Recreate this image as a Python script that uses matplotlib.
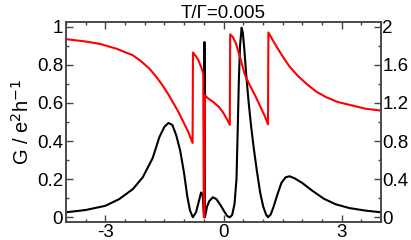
import matplotlib
matplotlib.use("Agg")
import matplotlib.pyplot as plt
from matplotlib.ticker import MultipleLocator, FuncFormatter

plt.rcParams['font.family'] = ['Liberation Sans', 'DejaVu Sans']

title = "T/\u0393=0.005"
ylabel = r"G / e$^{2}$h$^{-1}$"

# black curve: conductance G (left axis)
g_x = [-4.0, -3.5, -3.0, -2.65, -2.3, -2.05, -1.8, -1.63, -1.5, -1.4, -1.3, -1.2,
       -1.1, -1.0, -0.92, -0.85, -0.78, -0.70, -0.63, -0.57, -0.53, -0.505, -0.486,
       -0.484, -0.482, -0.46, -0.42, -0.36, -0.27, -0.18, -0.08, 0.02, 0.1, 0.16,
       0.22, 0.28, 0.33, 0.36, 0.39, 0.42, 0.46, 0.49, 0.53, 0.58, 0.64, 0.70, 0.77,
       0.85, 0.93, 1.01, 1.08, 1.13, 1.20, 1.28, 1.37, 1.47, 1.58, 1.68, 1.80, 2.0,
       2.25, 2.55, 2.85, 3.2, 3.6, 4.0]
g_y = [0.026, 0.038, 0.060, 0.095, 0.148, 0.21, 0.31, 0.42, 0.475, 0.495, 0.485, 0.43,
       0.35, 0.23, 0.11, 0.035, 0.0, 0.025, 0.08, 0.13, 0.12, 0.03, 0.0,
       0.92, 0.0, 0.01, 0.055, 0.085, 0.105, 0.095, 0.065, 0.03, 0.005, 0.0,
       0.012, 0.07, 0.2, 0.45, 0.72, 0.90, 0.995, 0.97, 0.88, 0.74, 0.60, 0.48, 0.36,
       0.24, 0.13, 0.055, 0.015, 0.0, 0.015, 0.06, 0.12, 0.18, 0.21, 0.215, 0.205, 0.18,
       0.14, 0.097, 0.068, 0.048, 0.035, 0.026]

# red curve (right axis)
r_x = [-4.0, -3.5, -3.14, -2.72, -2.3, -2.1, -1.88, -1.7, -1.54, -1.4, -1.29, -1.15,
       -1.03, -0.9, -0.785, -0.775, -0.70, -0.64, -0.57, -0.515, -0.50, -0.485, -0.47,
       -0.40, -0.26, -0.12, -0.01, 0.10, 0.16, 0.17, 0.24, 0.32, 0.42, 0.54, 0.65,
       0.80, 0.95, 1.05, 1.13, 1.14, 1.25, 1.35, 1.5, 1.68, 1.9, 2.11, 2.35, 2.61,
       2.9, 3.2, 3.6, 4.0]
r_y = [1.87, 1.845, 1.82, 1.77, 1.70, 1.64, 1.56, 1.47, 1.38, 1.29, 1.21, 1.11,
       1.01, 0.90, 0.78, 1.73, 1.69, 1.65, 1.58, 1.51, 0.0, 0.0, 1.28,
       1.25, 1.21, 1.16, 1.10, 1.02, 0.97, 1.92, 1.89, 1.82, 1.68, 1.50, 1.40,
       1.28, 1.15, 1.06, 0.975, 1.94, 1.86, 1.79, 1.69, 1.58, 1.48, 1.40, 1.32, 1.26,
       1.21, 1.18, 1.14, 1.12]

x_ticks = [-3, 0, 3]

fig = plt.figure(figsize=(4.11, 2.40), dpi=100)
ax = fig.add_axes([66/411, 1-222/240, (381-66)/411, (222-22)/240])
ax2 = ax.twinx()

ax.plot(g_x, g_y, color='black', lw=1.5)
ax2.plot(r_x, r_y, color='#ff0000', lw=1.5)

ax.set_xlim(-4, 4)
ax.set_ylim(-0.025, 1.025)
ax2.set_ylim(-0.05, 2.05)

fmt = FuncFormatter(lambda v, p: '%g' % round(v, 3))
ax.set_xticks(x_ticks)
ax.xaxis.set_minor_locator(MultipleLocator(0.5))
ax.yaxis.set_major_locator(MultipleLocator(0.2))
ax.yaxis.set_minor_locator(MultipleLocator(0.1))
ax2.yaxis.set_major_locator(MultipleLocator(0.4))
ax2.yaxis.set_minor_locator(MultipleLocator(0.2))
ax.yaxis.set_major_formatter(fmt)
ax2.yaxis.set_major_formatter(fmt)
ax.xaxis.set_major_formatter(fmt)

fs = 13.5
spine_col = '#444444'
for a in (ax, ax2):
    for s in a.spines.values():
        s.set_linewidth(1.1)
        s.set_color(spine_col)
ax.tick_params(axis='x', which='both', direction='in', top=True, bottom=True,
               labelsize=fs, color=spine_col, pad=1.5)
ax.tick_params(axis='y', which='both', direction='in', left=True, right=False,
               labelsize=fs, color=spine_col, pad=2)
ax2.tick_params(axis='y', which='both', direction='in', right=True,
                labelsize=fs, color=spine_col, pad=1)
for a in (ax, ax2):
    a.tick_params(which='major', length=5, width=1)
    a.tick_params(which='minor', length=2.5, width=1)

ax.set_title(title, fontsize=fs, pad=2)
ax.set_ylabel(ylabel, fontsize=14.5, labelpad=3)

fig.savefig('out.png', dpi=100)
